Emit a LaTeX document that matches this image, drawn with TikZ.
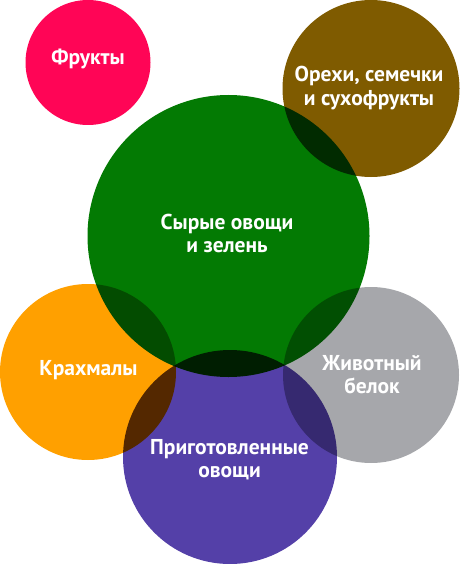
\documentclass[tikz,border=0pt]{standalone}
\usepackage{fontspec}
\setmainfont{PT Sans}
\definecolor{cfruit}{HTML}{FF0556}
\definecolor{cnuts}{HTML}{7F5B00}
\definecolor{cgreen}{HTML}{037A03}
\definecolor{cstarch}{HTML}{FFA000}
\definecolor{cprotein}{HTML}{A6A7AB}
\definecolor{ccooked}{HTML}{5440A8}
\begin{document}
\begin{tikzpicture}[x=1pt,y=-1pt,
  lbl/.style={text=white, font=\bfseries\fontsize{21.5}{23.5}\selectfont, inner sep=0pt, anchor=base}]
\useasboundingbox (0,0) rectangle (460,564);
\begin{scope}[blend group=multiply]
  \fill[cfruit]   (88,62.5)  circle[radius=62.5];
  \fill[cnuts]    (371,88.5) circle[radius=88.5];
  \fill[cgreen]   (228.5,236) circle[radius=141];
  \fill[cstarch]  (88,372)   circle[radius=88];
  \fill[cprotein] (371,375)  circle[radius=88];
  \fill[ccooked]  (230,457)  circle[radius=107];
\end{scope}
\node[lbl] (t1)  at (88,65)    {Фрукты};
\node[lbl] (t2a) at (369,82)   {Орехи, семечки};
\node[lbl] (t2b) at (369,105.5) {и сухофрукты};
\node[lbl] (t3a) at (227,229)  {Сырые овощи};
\node[lbl] (t3b) at (227,252.5) {и зелень};
\node[lbl] (t4)  at (88.5,375) {Крахмалы};
\node[lbl] (t5a) at (372,370)  {Животный};
\node[lbl] (t5b) at (372,393.5) {белок};
\node[lbl] (t6a) at (229.5,454) {Приготовленные};
\node[lbl] (t6b) at (229.5,477.5) {овощи};
\end{tikzpicture}
\end{document}
